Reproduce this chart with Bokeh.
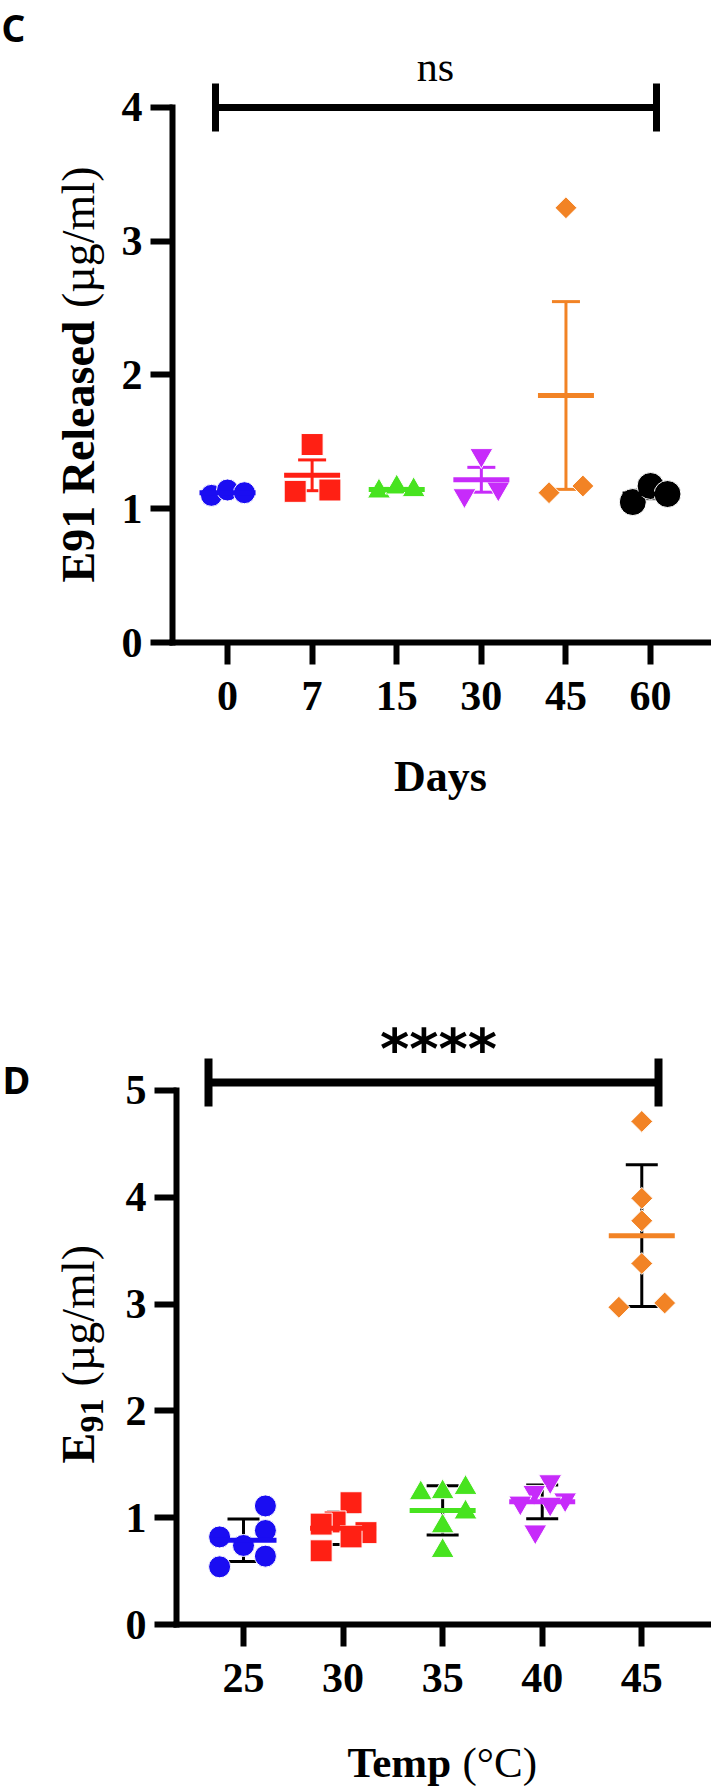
import numpy as np
from bokeh.plotting import figure
from bokeh.models import Range1d, FixedTicker, Label
from bokeh.layouts import column
from bokeh.embed import file_html
from bokeh.resources import INLINE

# ---------------- Panel C data (E91 released vs storage days) ----------------
days = ["0", "7", "15", "30", "45", "60"]
c_day0 = [1.10, 1.14, 1.12]
c_day7 = [1.48, 1.13, 1.14]
c_day15 = [1.13, 1.16, 1.14]
c_day30 = [1.40, 1.10, 1.15]
c_day45 = [3.25, 1.12, 1.17]
c_day60 = [1.05, 1.17, 1.11]
c_yticks = [0, 1, 2, 3, 4]

# ---------------- Panel D data (E91 vs temperature) ----------------
temps = ["25", "30", "35", "40", "45"]
d_t25 = [1.11, 0.82, 0.88, 0.74, 0.64, 0.54]
d_t30 = [1.14, 0.96, 0.94, 0.86, 0.82, 0.69]
d_t35 = [1.23, 1.24, 1.28, 1.05, 0.92, 0.69]
d_t40 = [1.34, 1.24, 1.14, 1.17, 1.13, 0.87]
d_t45 = [4.71, 3.99, 3.78, 3.38, 2.97, 3.01]
d_yticks = [0, 1, 2, 3, 4, 5]

# ---------------- styles ----------------
BLUE, RED, GREEN, PURPLE, ORANGE, BLACK = "#1A0DF2", "#FF2014", "#47E31F", "#C72BFA", "#F28325", "#000000"
SERIF = "Liberation Serif"
W = 711

c_series = [c_day0, c_day7, c_day15, c_day30, c_day45, c_day60]
c_colors = [BLUE, RED, GREEN, PURPLE, ORANGE, BLACK]
c_markers = ["circle", "square", "triangle", "inverted_triangle", "square", "circle"]
c_angles = [0, 0, 0, 0, np.pi / 4, 0]
c_sizes = [22, 22, 23, 23, 15.5, 27]
c_jitter = [[-0.19, 0.0, 0.2], [0.0, -0.2, 0.21], [-0.21, 0.0, 0.2],
            [0.0, -0.2, 0.2], [0.0, -0.2, 0.2], [-0.21, 0.0, 0.2]]

d_series = [d_t25, d_t30, d_t35, d_t40, d_t45]
d_colors = [BLUE, RED, GREEN, PURPLE, ORANGE]
d_markers = ["circle", "square", "triangle", "inverted_triangle", "square"]
d_angles = [0, 0, 0, 0, np.pi / 4]
d_sizes = [22, 22, 23, 23, 15.5]
d_jitter = [[0.22, -0.24, 0.22, 0.0, 0.22, -0.24],
            [0.08, -0.08, -0.22, 0.23, 0.08, -0.22],
            [-0.22, 0.0, 0.23, 0.23, 0.0, 0.0],
            [0.08, -0.08, -0.22, 0.23, 0.08, -0.07],
            [0.0, 0.0, 0.0, 0.0, -0.23, 0.23]]

BASELINE_FIX = 0.36  # labels render this fraction of an em below the requested baseline


class Panel:
    """Maps page pixels to data coordinates for one panel whose frame fills the canvas."""

    def __init__(self, top, height, x0px, xunit, y0px, yunit):
        self.top, self.height = top, height
        self.x0px, self.xunit, self.y0px, self.yunit = x0px, xunit, y0px, yunit
        self.p = figure(width=W, height=height,
                        x_range=Range1d(self.x(0), self.x(W)),
                        y_range=Range1d(self.y(top + height), self.y(top)),
                        output_backend="svg", toolbar_location=None,
                        min_border_left=0, min_border_right=0, min_border_top=0, min_border_bottom=0,
                        outline_line_color=None, background_fill_color="white",
                        border_fill_color="white")
        self.p.grid.visible = False

    def x(self, px):
        return (px - self.x0px) / self.xunit

    def y(self, py):
        return (self.y0px - py) / self.yunit

    def label(self, px, py, text, size, font=SERIF, style="bold", align="left", angle=0.0):
        shift = BASELINE_FIX * size
        if angle:
            px -= shift
        else:
            py -= shift
        self.p.add_layout(Label(x=self.x(px), y=self.y(py), text=text, text_font=font,
                                text_font_style=style, text_font_size=f"{size}px",
                                text_align=align, text_baseline="alphabetic", angle=angle,
                                text_color="black", level="overlay"))

    def bracket(self, x1px, x2px, ypx, cap_top, cap_bot, lw):
        p = self.p
        p.segment(x0=[self.x(x1px)], y0=[self.y(ypx)], x1=[self.x(x2px)], y1=[self.y(ypx)],
                  line_width=lw, line_color="black")
        p.segment(x0=[self.x(x1px), self.x(x2px)], y0=[self.y(cap_top)] * 2,
                  x1=[self.x(x1px), self.x(x2px)], y1=[self.y(cap_bot)] * 2,
                  line_width=lw, line_color="black")

    def axes(self, xlabels, yticks, yaxis_px):
        p = self.p
        xa, ya = p.xaxis[0], p.yaxis[0]
        xa.fixed_location = 0
        ya.fixed_location = self.x(yaxis_px)
        xa.bounds = (self.x(yaxis_px), self.x(W))
        ya.bounds = (yticks[0], yticks[-1])
        xa.ticker = FixedTicker(ticks=list(range(len(xlabels))))
        xa.major_label_overrides = {i: lab for i, lab in enumerate(xlabels)}
        ya.ticker = FixedTicker(ticks=yticks)
        ya.major_label_overrides = {t: str(t) for t in yticks}
        for ax in (xa, ya):
            ax.axis_line_width = 6
            ax.axis_line_color = "black"
            ax.axis_line_cap = "square"
            ax.major_tick_line_width = 6
            ax.major_tick_line_color = "black"
            ax.major_tick_out = 22
            ax.major_tick_in = 0
            ax.minor_tick_line_color = None
            ax.major_label_text_font = SERIF
            ax.major_label_text_font_style = "bold"
            ax.major_label_text_font_size = "42px"
            ax.major_label_text_color = "black"
        xa.major_label_standoff = 17
        ya.major_label_standoff = 8


def draw_groups(p, series, colors, markers, angles, sizes, jitter, err_kind,
                err_color_same, cap, mean_w, mean_lw):
    for i, vals in enumerate(series):
        v = np.array(vals)
        m = v.mean()
        sd = v.std(ddof=1)
        e = sd / np.sqrt(len(v)) if err_kind == "sem" else sd
        ec = colors[i] if err_color_same else "black"
        p.segment(x0=[i], y0=[m - e], x1=[i], y1=[m + e], line_width=3, line_color=ec)
        p.scatter(x=[i, i], y=[m - e, m + e], marker="dash", size=cap, line_width=3, line_color=ec)
        xs = [i + j for j in jitter[i]]
        p.scatter(x=xs, y=list(vals), marker=markers[i], size=sizes[i], angle=angles[i],
                  fill_color=colors[i], line_color="white", line_width=1)
        p.scatter(x=[i], y=[m], marker="dash", size=mean_w, line_width=mean_lw, line_color=colors[i])


# ================= Panel C =================
C_H = 890
C = Panel(0, C_H, 227.0, 84.615, 642.0, 133.76)
C.axes(days, c_yticks, 172)
draw_groups(C.p, c_series, c_colors, c_markers, c_angles, c_sizes, c_jitter, "sem", True, 28, 56, 5)
C.bracket(215, 656, 107, 83, 131, 7)
C.label(435, 82, "ns", 42, style="normal", align="center")
C.label(1, 40, "C", 37, font="Noto Sans", style="bold")
C.label(95, 582, "E91 Released", 46, angle=np.pi / 2)
C.label(95, 166, "(µg/ml)", 46, style="normal", align="right", angle=np.pi / 2)
C.label(440, 792, "Days", 44, align="center")

# ================= Panel D =================
D_H = 1789 - C_H
D = Panel(C_H, D_H, 243.0, 99.57, 1624.0, 106.81)
D.axes(temps, d_yticks, 176)
draw_groups(D.p, d_series, d_colors, d_markers, d_angles, d_sizes, d_jitter, "sd", False, 32, 66, 5)
D.bracket(208, 658, 1082, 1058, 1106, 8)
D.label(438, 1068, "****", 56, font="DejaVu Sans", style="bold", align="center")
D.label(2, 1092, "D", 38, font="Noto Sans", style="bold")
D.label(95, 1463, "E", 46, angle=np.pi / 2)
D.label(104, 1432, "91", 34, angle=np.pi / 2)
D.label(95, 1386, "(µg/ml)", 46, style="normal", angle=np.pi / 2)
D.label(347, 1777, "Temp", 43)
D.label(462, 1777, "(°C)", 43, style="normal")

layout = column(C.p, D.p)
open("out.html", "w").write(file_html(layout, INLINE))
